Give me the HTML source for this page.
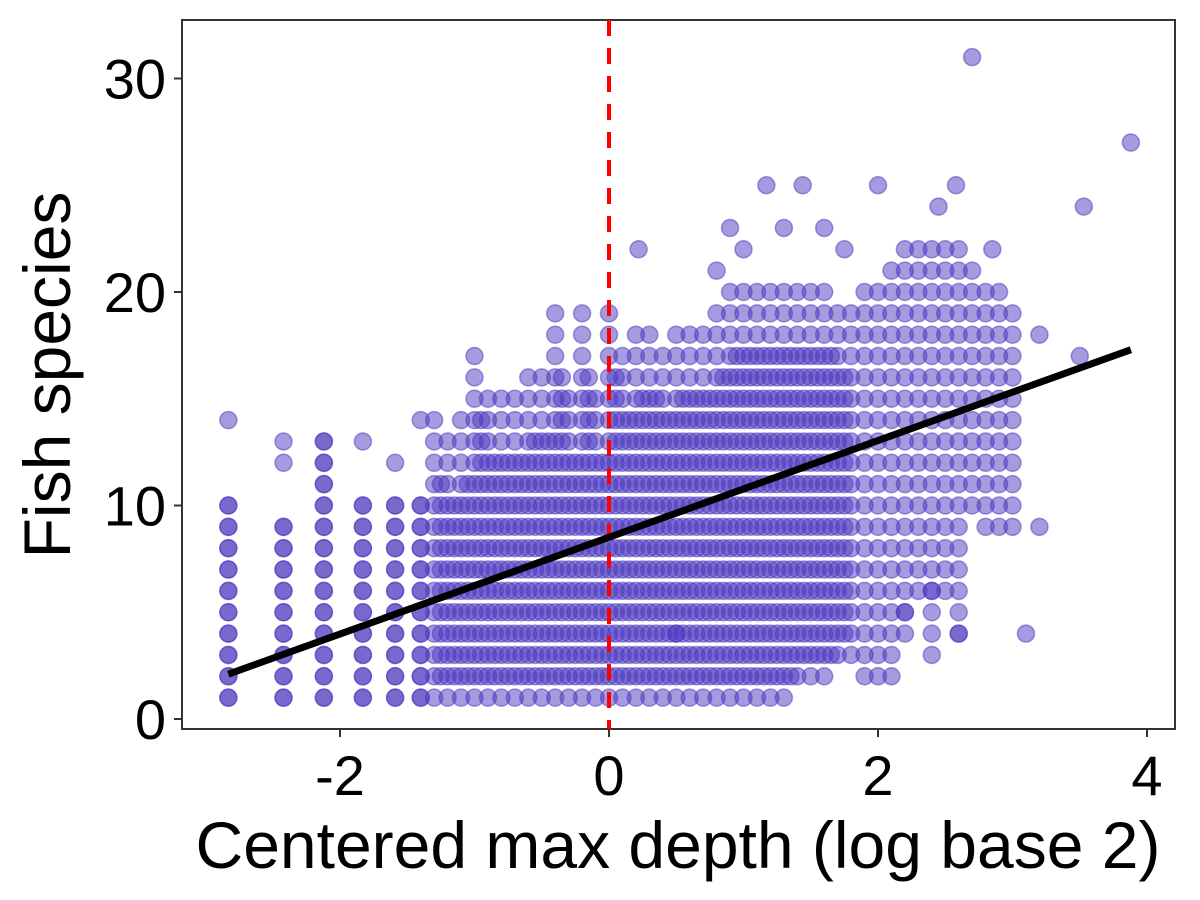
<!DOCTYPE html>
<html><head><meta charset="utf-8"><style>
html,body{margin:0;padding:0;background:#fff;}
svg{display:block;font-family:"Liberation Sans",Arial,sans-serif;}
</style></head><body>
<svg id="chart" width="1200" height="900">
<rect x="182" y="20" width="993" height="709" fill="#fff" stroke="#333" stroke-width="2"/>
<g id="points"></g>
<g id="axes"></g>
<text x="678" y="868" font-size="66" text-anchor="middle" fill="#000">Centered max depth (log base 2)</text>
<text transform="translate(70,375) rotate(-90)" font-size="66" text-anchor="middle" fill="#000">Fish species</text>
</svg>
<script>
const colX = [-2.83,-2.42,-2.12,-1.83,-1.59,-1.4,-1.3,-1.2,-1.1,-1.0,-0.9,-0.8,-0.7,-0.6,-0.5,-0.4,-0.3,-0.2,-0.1,0.0,0.1,0.2,0.3,0.4,0.5,0.6,0.7,0.8,0.9,1.0,1.1,1.2,1.3,1.4,1.5,1.6,1.7,1.8,1.9,2.0,2.1,2.2,2.3,2.4,2.5,2.6,2.7,2.8,2.9,3.0];
const colMin = [1,1,1,1,1,1,1,1,1,1,1,1,1,1,1,1,1,1,1,1,1,1,1,1,1,1,1,1,1,1,1,1,1,2,2,2,3,3,2,2,2,4,6,3,6,4,10,9,9,9];
const colMax = [10,9,13,10,10,10,14,13,14,17,15,15,15,16,16,19,15,19,15,19,17,18,18,17,18,18,18,19,20,20,20,20,20,20,20,20,19,19,20,20,21,22,22,22,22,22,21,20,20,19];
const extraX = [-2.83,-2.42,-2.42,-1.83,-1.59,-1.4,0.22,1.17,1.44,2.0,2.58,0.9,1.6,2.45,0.8,1.0,1.75,2.85,3.1,3.2,3.5,3.53,3.88,2.7,3.2,2.2,2.6,1.3,0.5,2.4];
const extraY = [14,12,13,13,12,14,22,25,25,25,25,23,23,24,21,22,22,22,4,9,17,24,27,31,18,5,4,23,4,6];
const xTicks = [-2,0,2,4];
const yTicks = [0,10,20,30];
const lineX = [-2.83,3.88];
const lineY = [2.1,17.3];

const sx = v => 609 + v*134.5;
const sy = v => 719 - v*21.35;
const NS = "http://www.w3.org/2000/svg";
const pg = document.getElementById('points');
function dot(x,y){
  const c = document.createElementNS(NS,'circle');
  c.setAttribute('cx',sx(x)); c.setAttribute('cy',sy(y)); c.setAttribute('r',8.5);
  c.setAttribute('fill','#4b38bf'); c.setAttribute('fill-opacity','0.5');
  c.setAttribute('stroke','#4b38bf'); c.setAttribute('stroke-opacity','0.5'); c.setAttribute('stroke-width','1.5');
  
  
  pg.appendChild(c);
}
for (let i=0;i<colX.length;i++){
  for (let y=colMin[i]; y<=colMax[i]; y++){
    dot(colX[i], y);
    if (colX[i] < -1.35) dot(colX[i], y);
    else if (colX[i] < 1.8 && y < colMax[i]-2 && y > colMin[i]) dot(colX[i]+0.05, y);
  }
}
for (let i=0;i<extraX.length;i++) dot(extraX[i], extraY[i]);

const ag = document.getElementById('axes');
const vl = document.createElementNS(NS,'line');
vl.setAttribute('x1',sx(0)); vl.setAttribute('x2',sx(0)); vl.setAttribute('y1',20); vl.setAttribute('y2',729);
vl.setAttribute('stroke','#ff0000'); vl.setAttribute('stroke-width','4'); vl.setAttribute('stroke-dasharray','16,12');


ag.appendChild(vl);
const rl = document.createElementNS(NS,'line');
rl.setAttribute('x1',sx(lineX[0])); rl.setAttribute('y1',sy(lineY[0]));
rl.setAttribute('x2',sx(lineX[1])); rl.setAttribute('y2',sy(lineY[1]));
rl.setAttribute('stroke','#000'); rl.setAttribute('stroke-width','7');


ag.appendChild(rl);
xTicks.forEach(t=>{
  const l = document.createElementNS(NS,'line');
  l.setAttribute('x1',sx(t)); l.setAttribute('x2',sx(t)); l.setAttribute('y1',729); l.setAttribute('y2',737);
  l.setAttribute('stroke','#333'); l.setAttribute('stroke-width','2');
  
  
  ag.appendChild(l);
  const tx = document.createElementNS(NS,'text');
  tx.setAttribute('x',sx(t)); tx.setAttribute('y',795); tx.setAttribute('font-size','56');
  tx.setAttribute('text-anchor','middle');
  tx.textContent = t;
  
  
  ag.appendChild(tx);
});
yTicks.forEach(t=>{
  const l = document.createElementNS(NS,'line');
  l.setAttribute('x1',174); l.setAttribute('x2',182); l.setAttribute('y1',sy(t)); l.setAttribute('y2',sy(t));
  l.setAttribute('stroke','#333'); l.setAttribute('stroke-width','2');
  
  
  ag.appendChild(l);
  const tx = document.createElementNS(NS,'text');
  tx.setAttribute('x',166); tx.setAttribute('y',sy(t)+20); tx.setAttribute('font-size','56');
  tx.setAttribute('text-anchor','end');
  tx.textContent = t;
  
  
  ag.appendChild(tx);
});
</script>
</body></html>
